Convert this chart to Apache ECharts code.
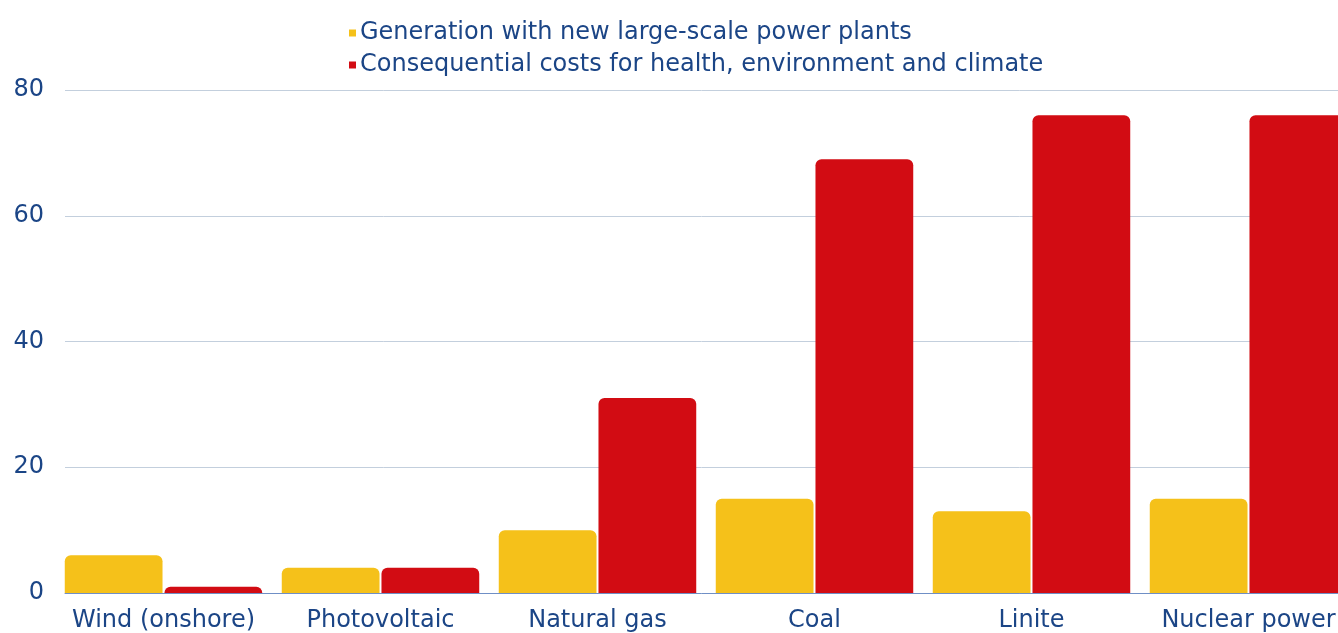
<!DOCTYPE html>
<html>
<head>
<meta charset="utf-8">
<script src="https://cdn.jsdelivr.net/npm/echarts@6/dist/echarts.min.js"></script>
<style>html,body{margin:0;padding:0;background:#fff}#c{width:1338px;height:633px}</style>
</head>
<body>
<div id="c"></div>
<script>
const categories = ['Wind (onshore)', 'Photovoltaic', 'Natural gas', 'Coal', 'Linite', 'Nuclear power'];
const generation = [6, 4, 10, 15, 13, 15];
const consequential = [1, 4, 31, 69, 76, 76];
const seriesNames = ['Generation with new large-scale power plants', 'Consequential costs for health, environment and climate'];
const yTicks = { min: 0, max: 80, interval: 20 };

const textColor = '#1b4586';
const font = 'DejaVu Sans';
const chart = echarts.init(document.getElementById('c'), null, { renderer: 'canvas' });
chart.setOption({
  animation: false,
  legend: {
    orient: 'vertical',
    left: 344,
    top: 16,
    itemWidth: 7,
    itemHeight: 7,
    itemGap: 8,
    icon: 'rect',
    textStyle: { color: textColor, fontSize: 24, fontFamily: font, lineHeight: 24, padding: [0, 0, 0, -1] },
    data: seriesNames
  },
  grid: [
    { left: 65, right: 0, top: 90, height: 503, outerBoundsMode: 'none', containLabel: false, z: 0 },
    { left: 55, width: 1302, top: 90, height: 503, outerBoundsMode: 'none', containLabel: false, z: 2 }
  ],
  xAxis: [
    {
      gridIndex: 0, type: 'category', data: [''],
      axisLine: { lineStyle: { color: '#6f8fc6', width: 1 } },
      axisTick: { show: false }, axisLabel: { show: false }
    },
    {
      gridIndex: 1, type: 'category', data: categories,
      axisLine: { show: false },
      axisTick: { show: false },
      axisLabel: { color: textColor, fontSize: 24, fontFamily: font, margin: 16, interval: 0 }
    }
  ],
  yAxis: [
    {
      gridIndex: 0, type: 'value',
      min: yTicks.min, max: yTicks.max, interval: yTicks.interval,
      axisLine: { show: false }, axisTick: { show: false },
      splitLine: { lineStyle: { color: '#c3cfdd', width: 1 } },
      axisLabel: { color: textColor, fontSize: 24, fontFamily: font, margin: 21 }
    },
    {
      gridIndex: 1, type: 'value',
      min: yTicks.min, max: yTicks.max, interval: yTicks.interval,
      axisLine: { show: false }, axisTick: { show: false },
      splitLine: { show: false }, axisLabel: { show: false }
    }
  ],
  series: [
    {
      name: seriesNames[0], type: 'bar', data: generation,
      xAxisIndex: 1, yAxisIndex: 1,
      barGap: '2%', barCategoryGap: '9%', z: 3,
      itemStyle: { color: '#f5c11a', borderRadius: [6, 6, 0, 0] }
    },
    {
      name: seriesNames[1], type: 'bar', data: consequential,
      xAxisIndex: 1, yAxisIndex: 1,
      barGap: '2%', barCategoryGap: '9%', z: 3,
      itemStyle: { color: '#d20c13', borderRadius: [6, 6, 0, 0] }
    }
  ]
});
</script>
</body>
</html>
